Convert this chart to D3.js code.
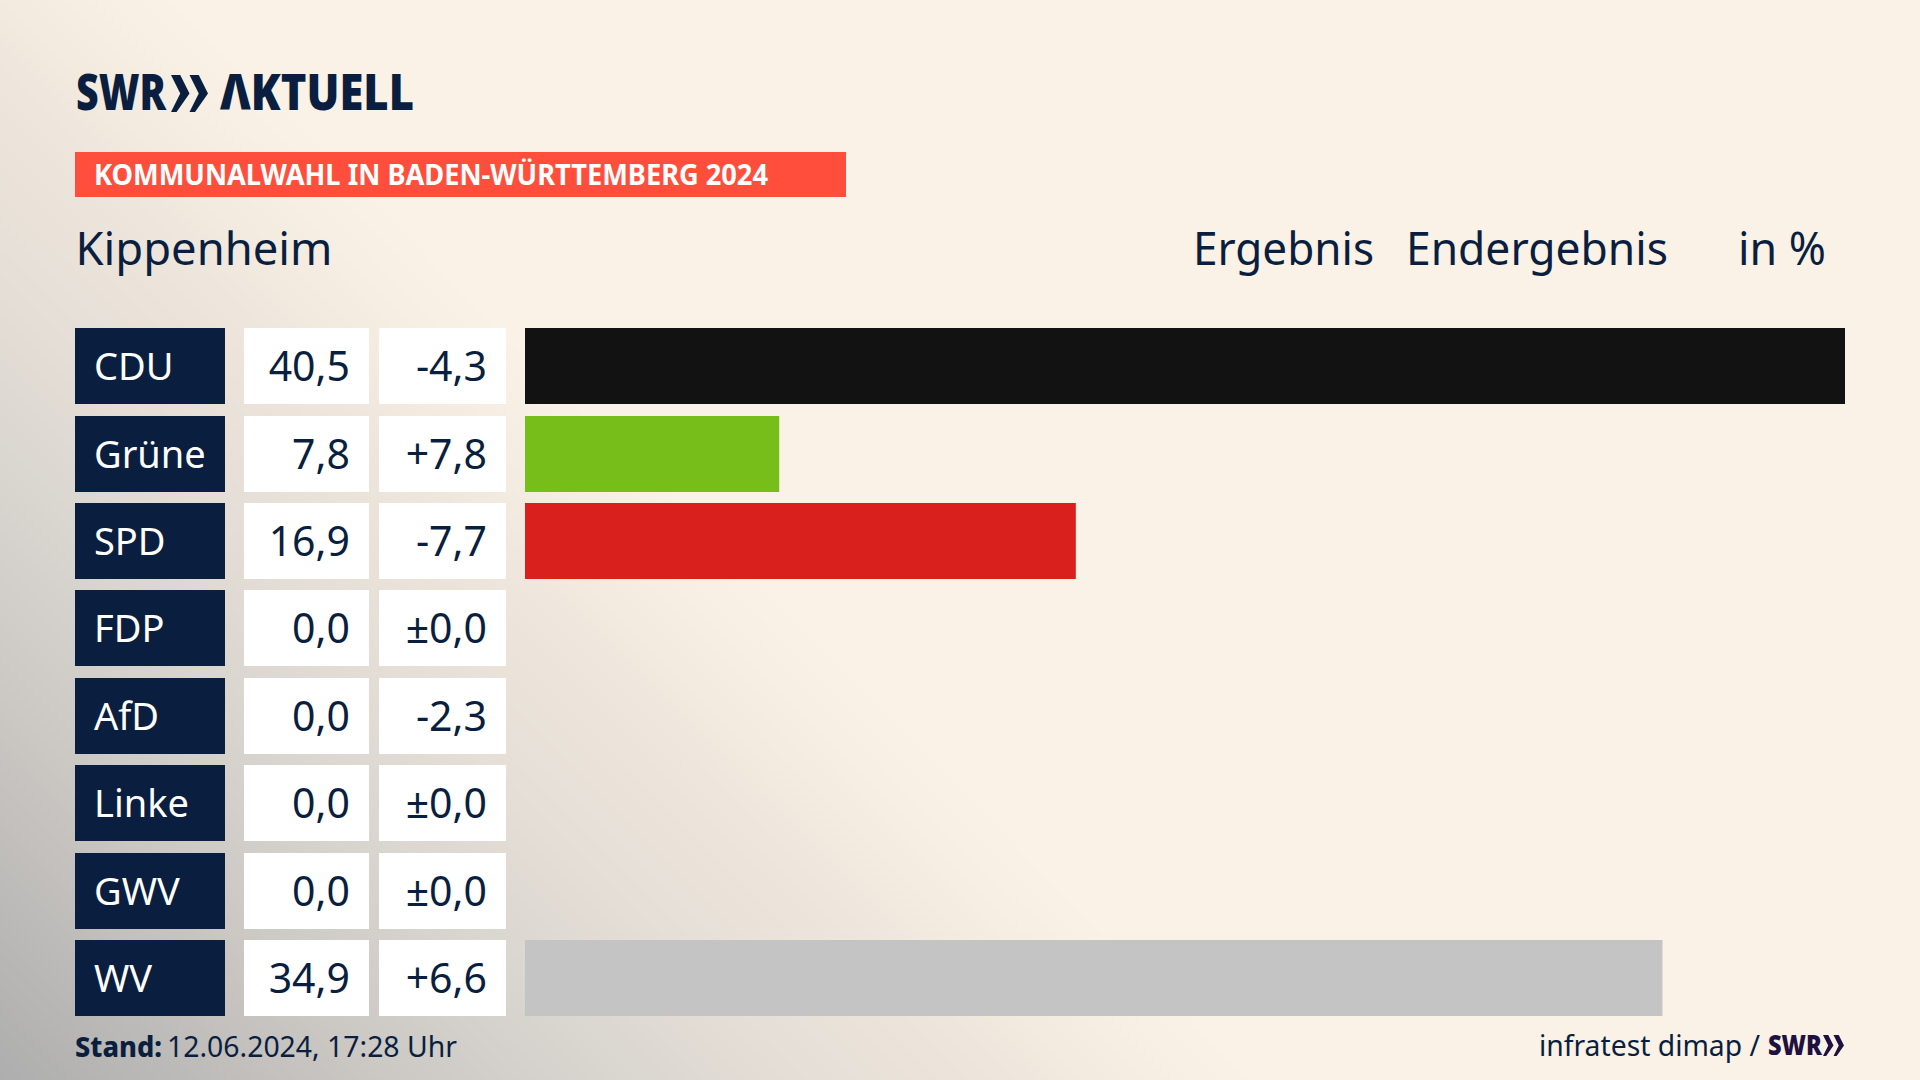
<!DOCTYPE html>
<html>
<head>
<meta charset="utf-8">
<script src="https://cdn.jsdelivr.net/npm/d3@7"></script>
<style>
  html, body { margin: 0; padding: 0; background: #faf2e6; overflow: hidden; }
  svg { display: block; }
  text { font-family: "Noto Sans", sans-serif; fill: #0a1f3f; }
</style>
</head>
<body>
<div id="chart"></div>
<script>
// Data
var parties = ["CDU", "Grüne", "SPD", "FDP", "AfD", "Linke", "GWV", "WV"];
var results = [40.5, 7.8, 16.9, 0.0, 0.0, 0.0, 0.0, 34.9];
var changes = ["-4,3", "+7,8", "-7,7", "±0,0", "-2,3", "±0,0", "±0,0", "+6,6"];
var barColors = ["#121212", "#78be1a", "#d9201c", "#f9a800", "#009ee0", "#c2185b", "#888888", "#c4c4c4"];

var svgWidth = 1920;
var svgHeight = 1080;
var navy = "#0a1f3f";

var svg = d3.select("#chart").append("svg")
  .attr("width", svgWidth)
  .attr("height", svgHeight);

// Background, grey running in diagonally from the lower left corner
var glow = svg.append("defs").append("linearGradient")
  .attr("id", "glow")
  .attr("gradientUnits", "userSpaceOnUse")
  .attr("x1", 0).attr("y1", 1080)
  .attr("x2", 630).attr("y2", 450);
glow.append("stop").attr("offset", "0").attr("stop-color", "#aeaeae");
glow.append("stop").attr("offset", "0.3").attr("stop-color", "#cbc7c3");
glow.append("stop").attr("offset", "0.5").attr("stop-color", "#dad6d0");
glow.append("stop").attr("offset", "0.65").attr("stop-color", "#e6dfd7");
glow.append("stop").attr("offset", "0.8").attr("stop-color", "#eee6dc");
glow.append("stop").attr("offset", "0.92").attr("stop-color", "#f7eee3");
glow.append("stop").attr("offset", "1").attr("stop-color", "#faf2e6");

svg.append("rect")
  .attr("width", svgWidth).attr("height", svgHeight)
  .attr("fill", "url(#glow)");

// Scales
var x = d3.scaleLinear().domain([0, 40.5]).range([525, 1845]);
var y = d3.scaleBand().domain(parties).range([328, 1016]).paddingInner(0.1307);
var rowY = d => Math.round(y(d) + 0.1);

// Logo
function chevrons(g, x0, y0, h, color) {
  var w = h * 0.5;
  [0, 1].forEach(function(off) {
    var xs = x0 + off * w;
    g.append("path")
      .attr("d", d3.line()([[xs, y0], [xs + w * 0.5, y0], [xs + w, y0 + h / 2], [xs + w * 0.3, y0 + h], [xs, y0 + h], [xs + w * 0.5, y0 + h / 2]]) + "Z")
      .attr("fill", color);
  });
}

var logo = svg.append("g");
logo.append("text").attr("x", 76).attr("y", 110)
  .attr("font-size", 49).attr("font-weight", 900)
  .attr("textLength", 90).attr("lengthAdjust", "spacingAndGlyphs")
  .text("SWR");
chevrons(logo, 171, 75, 37, navy);
logo.append("text").attr("x", 220).attr("y", 110)
  .attr("font-size", 49).attr("font-weight", 900)
  .attr("textLength", 194).attr("lengthAdjust", "spacingAndGlyphs")
  .text("ΛKTUELL");

// Red banner
svg.append("rect")
  .attr("x", 75).attr("y", 152).attr("width", 771).attr("height", 45)
  .attr("fill", "#ff4f3c");
svg.append("text").attr("x", 94).attr("y", 185)
  .attr("font-size", 29).attr("font-weight", 700)
  .attr("textLength", 674).attr("lengthAdjust", "spacingAndGlyphs")
  .style("fill", "#fff")
  .text("KOMMUNALWAHL IN BADEN-WÜRTTEMBERG 2024");

// Header line
var headers = [
  {t: "Kippenheim", x: 75.5, w: 257},
  {t: "Ergebnis", x: 1193, w: 181},
  {t: "Endergebnis", x: 1406, w: 262},
  {t: "in %", x: 1738, w: 88}
];
svg.selectAll(".head").data(headers).enter().append("text")
  .attr("class", "head")
  .attr("x", d => d.x).attr("y", 265)
  .attr("font-size", 45)
  .attr("textLength", d => d.w).attr("lengthAdjust", "spacingAndGlyphs")
  .text(d => d.t);

// Rows
var rows = svg.selectAll(".row").data(parties).enter().append("g").attr("class", "row");

rows.append("rect")
  .attr("x", 75).attr("y", rowY)
  .attr("width", 150).attr("height", 76)
  .attr("fill", navy);
rows.append("rect")
  .attr("x", 244).attr("y", rowY)
  .attr("width", 125).attr("height", 76)
  .attr("fill", "#fff");
rows.append("rect")
  .attr("x", 379).attr("y", rowY)
  .attr("width", 127).attr("height", 76)
  .attr("fill", "#fff");

rows.append("text")
  .attr("x", 94).attr("y", d => rowY(d) + 52)
  .attr("font-size", 38)
  .style("fill", "#fff")
  .text(d => d);
rows.append("text")
  .attr("x", 350).attr("y", d => rowY(d) + 52.5)
  .attr("font-size", 41).attr("text-anchor", "end")
  .text((d, i) => results[i].toFixed(1).replace(".", ","));
rows.append("text")
  .attr("x", 487).attr("y", d => rowY(d) + 52.5)
  .attr("font-size", 41).attr("text-anchor", "end")
  .text((d, i) => changes[i]);

rows.append("rect")
  .attr("x", x(0)).attr("y", rowY)
  .attr("width", (d, i) => x(results[i]) - x(0))
  .attr("height", 76)
  .attr("fill", (d, i) => barColors[i]);

// Footer
svg.append("text").attr("x", 75).attr("y", 1057)
  .attr("font-size", 29).attr("font-weight", 800)
  .attr("textLength", 87).attr("lengthAdjust", "spacingAndGlyphs")
  .text("Stand:");
svg.append("text").attr("x", 167).attr("y", 1057)
  .attr("font-size", 29)
  .attr("textLength", 290).attr("lengthAdjust", "spacingAndGlyphs")
  .text("12.06.2024, 17:28 Uhr");
svg.append("text").attr("x", 1539).attr("y", 1056)
  .attr("font-size", 29)
  .attr("textLength", 221).attr("lengthAdjust", "spacingAndGlyphs")
  .text("infratest dimap /");
svg.append("text").attr("x", 1768).attr("y", 1055)
  .attr("font-size", 28).attr("font-weight", 900)
  .attr("textLength", 54).attr("lengthAdjust", "spacingAndGlyphs")
  .style("fill", "#1f1140")
  .text("SWR");
chevrons(svg.append("g"), 1823, 1035, 21, "#1f1140");
</script>
</body>
</html>
